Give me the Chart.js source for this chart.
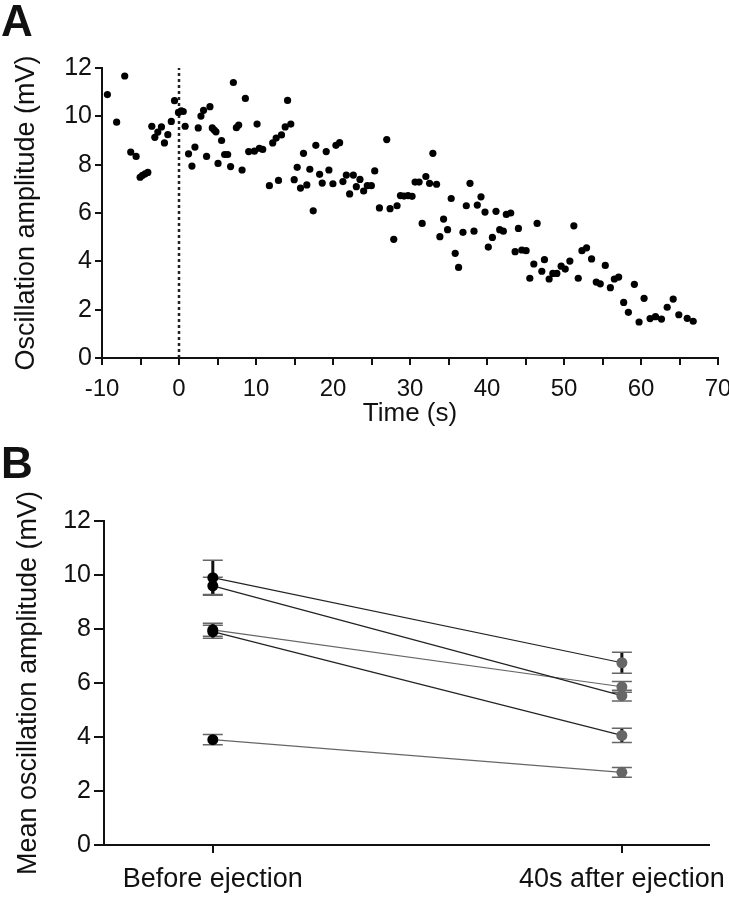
<!DOCTYPE html>
<html>
<head>
<meta charset="utf-8">
<title>Oscillation amplitude</title>
<script src="https://cdn.jsdelivr.net/npm/chart.js@4.4.1/dist/chart.umd.min.js"></script>
<style>
  html, body { margin: 0; padding: 0; background: #fff; }
  #wrap { position: relative; width: 729px; height: 899px; overflow: hidden; }
  canvas { position: absolute; left: 0; }
  #chartA { top: 0; }
  #chartB { top: 440px; }
</style>
</head>
<body>
<div id="wrap">
  <canvas id="chartA" width="729" height="440"></canvas>
  <canvas id="chartB" width="729" height="459"></canvas>
</div>
<script>
// ---- panel A: amplitude over time
const timeS = [
  -9.3, -8.1, -7.05, -6.27, -5.57, -5.05, -4.75, -4.4, -4.05, -3.53,
  -3.14, -2.75, -2.28, -1.89, -1.45, -1.0, -0.58, -0.07, 0.29, 0.55,
  0.8, 1.24, 1.68, 2.07, 2.5, 2.85, 3.19, 3.58, 4.02, 4.32,
  4.58, 4.8, 5.07, 5.53, 5.93, 6.32, 6.7, 7.06, 7.45, 7.75,
  8.19, 8.62, 9.05, 9.79, 10.14, 10.44, 10.87, 11.74, 12.17, 12.62,
  12.92, 13.31, 13.79, 14.1, 14.52, 14.96, 15.35, 15.78, 16.17, 16.6,
  16.99, 17.43, 17.77, 18.26, 18.6, 19.12, 19.47, 19.99, 20.38, 20.86,
  21.29, 21.73, 22.16, 22.64, 23.03, 23.5, 23.98, 24.46, 24.98, 25.42,
  26.03, 26.98, 27.41, 27.89, 28.32, 28.76, 29.23, 29.75, 30.27, 30.66,
  31.18, 31.58, 32.06, 32.54, 32.97, 33.45, 33.88, 34.36, 34.88, 35.35,
  35.87, 36.31, 36.88, 37.31, 37.79, 38.31, 38.74, 39.22, 39.74, 40.17,
  40.7, 41.17, 41.65, 42.12, 42.51, 43.08, 43.65, 44.08, 44.52, 45.08,
  45.56, 46.08, 46.51, 47.12, 47.46, 48.07, 48.55, 49.07, 49.63, 50.16,
  50.76, 51.28, 51.85, 52.33, 52.93, 53.58, 54.19, 54.71, 55.36, 56.02,
  56.54, 57.1, 57.75, 58.36, 59.14, 59.75, 60.4, 61.18, 61.88, 62.66,
  63.4, 64.18, 64.91, 66.0, 66.78
];
const amplitudeMv = [
  10.9, 9.76, 11.67, 8.52, 8.34, 7.48, 7.56, 7.62, 7.68, 9.59,
  9.13, 9.35, 9.56, 8.9, 9.24, 9.79, 10.65, 10.16, 10.23, 10.2,
  9.59, 8.45, 7.94, 8.73, 9.52, 10.01, 10.25, 8.34, 10.4, 9.52,
  9.43, 9.36, 8.05, 9.0, 8.42, 8.42, 7.92, 11.4, 9.53, 9.64,
  7.78, 10.74, 8.54, 8.56, 9.68, 8.68, 8.63, 7.13, 8.9, 9.1,
  7.35, 9.23, 9.56, 10.66, 9.68, 7.38, 7.89, 7.03, 8.47, 7.16,
  7.81, 6.09, 8.8, 7.6, 7.24, 8.54, 7.78, 7.21, 8.8, 8.91,
  7.3, 7.57, 6.79, 7.57, 7.09, 7.39, 6.91, 7.13, 7.13, 7.74,
  6.21, 9.04, 6.18, 4.91, 6.3, 6.72, 6.7, 6.72, 6.69, 7.28,
  7.28, 5.57, 7.51, 7.23, 8.47, 7.19, 5.02, 5.75, 5.31, 6.6,
  4.33, 3.75, 5.2, 6.3, 7.23, 5.25, 6.33, 6.67, 6.04, 4.59,
  4.99, 6.07, 5.31, 5.25, 5.94, 6.0, 4.4, 5.36, 4.47, 4.44,
  3.3, 3.89, 5.57, 3.59, 4.07, 3.27, 3.5, 3.5, 3.8, 3.68,
  4.01, 5.47, 3.3, 4.44, 4.56, 4.1, 3.14, 3.07, 3.83, 2.91,
  3.27, 3.35, 2.3, 1.89, 3.05, 1.49, 2.47, 1.63, 1.71, 1.61,
  2.1, 2.44, 1.79, 1.64, 1.52
];
const ejectionTime = 0;
const ejectionSpan = [0, 12];

// ---- panel B: mean amplitude before / after, one row per cell
const groupLabels = ['Before ejection', '40s after ejection'];
const beforeMean = [9.9, 9.6, 7.97, 7.9, 3.9];
const beforeSem = [0.65, 0.32, 0.24, 0.24, 0.19];
const afterMean = [6.75, 5.53, 5.86, 4.06, 2.69];
const afterSem = [0.39, 0.2, 0.2, 0.26, 0.18];

const FONT = "'Liberation Sans', Arial, Helvetica, sans-serif";
const lineColors = ['#222', '#222', '#666', '#222', '#666'];

// panel letters (A / B)
function panelLetter(letter, y) {
  return {
    id: 'letter' + letter,
    afterDraw(chart) {
      const ctx = chart.ctx;
      ctx.save();
      ctx.fillStyle = '#111';
      ctx.font = 'bold 44px ' + FONT;
      ctx.textBaseline = 'alphabetic';
      ctx.fillText(letter, 1, y);
      ctx.restore();
    }
  };
}

// error bars for panel B, drawn under the points
const errorBars = {
  id: 'errorBars',
  beforeDatasetsDraw(chart) {
    const ctx = chart.ctx;
    const xs = chart.scales.x, ys = chart.scales.y;
    ctx.save();
    chart.data.datasets.forEach((ds, i) => {
      const sems = [beforeSem[i], afterSem[i]];
      ds.data.forEach((p, j) => {
        const px = xs.getPixelForValue(p.x);
        const top = ys.getPixelForValue(p.y + sems[j]);
        const bot = ys.getPixelForValue(p.y - sems[j]);
        ctx.strokeStyle = '#111';
        ctx.lineWidth = 3;
        ctx.beginPath();
        ctx.moveTo(px, top);
        ctx.lineTo(px, bot);
        ctx.stroke();
        ctx.strokeStyle = '#666';
        ctx.lineWidth = 1.5;
        ctx.beginPath();
        ctx.moveTo(px - 10, top);
        ctx.lineTo(px + 10, top);
        ctx.moveTo(px - 10, bot);
        ctx.lineTo(px + 10, bot);
        ctx.stroke();
      });
    });
    ctx.restore();
  }
};

Chart.defaults.font.family = FONT;
Chart.defaults.color = '#111';
Chart.defaults.animation = false;

// Panel A
new Chart(document.getElementById('chartA'), {
  type: 'scatter',
  data: {
    datasets: [
      {
        data: timeS.map((t, i) => ({ x: t, y: amplitudeMv[i] })),
        backgroundColor: '#000',
        borderWidth: 0,
        pointRadius: 3.6
      },
      {
        type: 'line',
        data: ejectionSpan.map(v => ({ x: ejectionTime, y: v })),
        borderColor: '#222',
        borderWidth: 2.5,
        borderDash: [3, 3],
        pointRadius: 0
      }
    ]
  },
  options: {
    responsive: false,
    layout: { padding: { top: 68, right: 11, left: 0, bottom: 0 } },
    plugins: { legend: { display: false }, tooltip: { enabled: false } },
    scales: {
      x: {
        type: 'linear',
        min: -10, max: 70,
        border: { color: '#111', width: 2 },
        grid: { drawOnChartArea: false, color: '#111', lineWidth: 2, tickLength: 7 },
        ticks: {
          stepSize: 5,
          padding: 10,
          maxRotation: 0,
          autoSkip: false,
          font: { size: 24 },
          callback: v => (v % 10 === 0 ? v : '')
        },
        title: { display: true, text: 'Time (s)', font: { size: 26 }, padding: { bottom: 11 } },
        afterFit: s => { s.height = 82; s.paddingLeft = 0; s.paddingRight = 0; }
      },
      y: {
        min: 0, max: 12,
        border: { color: '#111', width: 2 },
        grid: { drawOnChartArea: false, color: '#111', lineWidth: 2, tickLength: 7 },
        ticks: { stepSize: 2, padding: 3, font: { size: 25 } },
        title: { display: true, text: 'Oscillation amplitude (mV)', font: { size: 27 }, padding: { top: 10 } },
        afterFit: s => { s.width = 102; }
      }
    }
  },
  plugins: [panelLetter('A', 36)]
});

// Panel B
new Chart(document.getElementById('chartB'), {
  type: 'line',
  data: {
    datasets: beforeMean.map((b, i) => ({
      data: [{ x: 0, y: b }, { x: 1, y: afterMean[i] }],
      borderColor: lineColors[i],
      borderWidth: 1.2,
      pointRadius: 5.5,
      pointBorderWidth: 0,
      pointBackgroundColor: ['#000', '#666']
    }))
  },
  options: {
    responsive: false,
    layout: { padding: { top: 81, right: 20, left: 0, bottom: 0 } },
    plugins: { legend: { display: false }, tooltip: { enabled: false } },
    scales: {
      x: {
        type: 'linear',
        min: -0.266, max: 1.213,
        afterBuildTicks: s => { s.ticks = [{ value: 0 }, { value: 1 }]; },
        border: { color: '#111', width: 2 },
        grid: { drawOnChartArea: false, color: '#111', lineWidth: 2, tickLength: 8 },
        ticks: {
          padding: 10,
          maxRotation: 0,
          autoSkip: false,
          font: { size: 27 },
          callback: v => groupLabels[v]
        },
        afterFit: s => { s.height = 54; s.paddingLeft = 0; s.paddingRight = 0; }
      },
      y: {
        min: 0, max: 12,
        border: { color: '#111', width: 2 },
        grid: { drawOnChartArea: false, color: '#111', lineWidth: 2, tickLength: 10 },
        ticks: { stepSize: 1, padding: 3, font: { size: 25 }, callback: v => (v % 2 === 0 ? v : '') },
        title: { display: true, text: 'Mean oscillation amplitude (mV)', font: { size: 27 }, padding: { top: 12 } },
        afterFit: s => { s.width = 104; }
      }
    }
  },
  plugins: [errorBars, panelLetter('B', 38)]
});
</script>
</body>
</html>
